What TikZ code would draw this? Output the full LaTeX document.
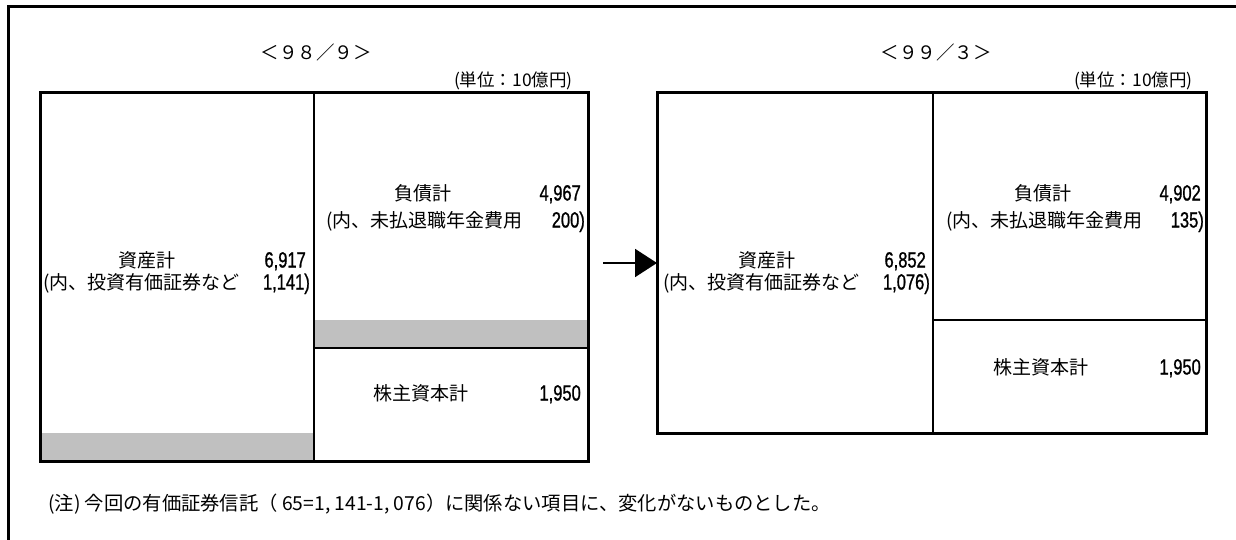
\documentclass[tikz,border=0pt]{standalone}
\usepackage{fontspec}
\newfontfamily\jpfont{Noto Sans CJK JP}
\newfontfamily\numfont[FakeStretch=0.75,FakeBold=1]{Liberation Sans}
\usetikzlibrary{arrows.meta}
\definecolor{bandgrey}{HTML}{C0C0C0}
\begin{document}
\begin{tikzpicture}[x=1pt,y=-1pt,
  jt/.style={font=\jpfont\fontsize{19}{22}\selectfont, inner sep=0pt},
  tt/.style={font=\jpfont\fontsize{18.5}{22}\selectfont, inner sep=0pt},
  ut/.style={font=\jpfont\fontsize{17.5}{20}\selectfont, inner sep=0pt},
  notet/.style={font=\jpfont\fontsize{19.3}{22}\selectfont, inner sep=0pt},
  nt/.style={font=\numfont\fontsize{22}{24}\selectfont, inner sep=0pt},
  boxn/.style={draw, line width=3pt, rectangle, inner sep=0pt, outer sep=0pt, anchor=north west},
  divline/.style={line width=2.2pt},
  band/.style={fill=bandgrey}
]
\useasboundingbox (0,0) rectangle (1236,540);
\fill[white] (0,0) rectangle (1236,540);
% outer frame (open at right and bottom)
\draw[line width=3pt] (8.5,545) -- (8.5,7) -- (1240,7);

% titles
\node[tt, anchor=base] (t1) at (316,60) {＜９８／９＞};
\node[tt, anchor=base] (t2) at (936,60) {＜９９／３＞};
\node[ut, anchor=base east] (u1) at (573,87) {(単位：10億円)};
\node[ut, anchor=base east] (u2) at (1193,87) {(単位：10億円)};

% grey bands
\fill[band] (40,433) rectangle (314,461);
\fill[band] (314,320) rectangle (588,347);

% boxes
\node[boxn, minimum width=548pt, minimum height=368pt] (lbox) at (40,93) {};
\node[boxn, minimum width=549pt, minimum height=340pt] (rbox) at (657,93) {};
\draw[divline] (314,93) -- (314,461);
\draw[divline] (314,348) -- (588,348);
\draw[divline] (933,93) -- (933,433);
\draw[divline] (933,320) -- (1206,320);

% left box texts
\node[jt, anchor=base] (la) at (147,267.5) {資産計};
\node[nt, anchor=base east] (lav) at (306,267.5) {6,917};
\node[jt, anchor=base west] (lai) at (43,289.5) {(内、投資有価証券など};
\node[nt, anchor=base east] (laiv) at (310,289.5) {1,141)};
\node[jt, anchor=base] (ll) at (423,200.5) {負債計};
\node[nt, anchor=base east] (llv) at (581,200.5) {4,967};
\node[jt, anchor=base west] (lli) at (326,227.5) {(内、未払退職年金費用};
\node[nt, anchor=base east] (lliv) at (585,227.5) {200)};
\node[jt, anchor=base] (le) at (421,400.5) {株主資本計};
\node[nt, anchor=base east] (lev) at (581,400.5) {1,950};

% right box texts
\node[jt, anchor=base] (ra) at (767,267.5) {資産計};
\node[nt, anchor=base east] (rav) at (926,267.5) {6,852};
\node[jt, anchor=base west] (rai) at (663,289.5) {(内、投資有価証券など};
\node[nt, anchor=base east] (raiv) at (930,289.5) {1,076)};
\node[jt, anchor=base] (rl) at (1043,200.5) {負債計};
\node[nt, anchor=base east] (rlv) at (1201,200.5) {4,902};
\node[jt, anchor=base west] (rli) at (946,227.5) {(内、未払退職年金費用};
\node[nt, anchor=base east] (rliv) at (1204,227.5) {135)};
\node[jt, anchor=base] (re) at (1041,374.5) {株主資本計};
\node[nt, anchor=base east] (rev) at (1201,374.5) {1,950};

% arrow
\coordinate (astart) at (603,263);
\draw[line width=2pt, -{Triangle[length=22pt,width=28pt]}] (astart) -- (rbox.west);

% note
\node[notet, anchor=base west] (note) at (48,510) {(注) 今回の有価証券信託（ 65=1, 141-1, 076）に関係ない項目に、変化がないものとした。};
\end{tikzpicture}
\end{document}
